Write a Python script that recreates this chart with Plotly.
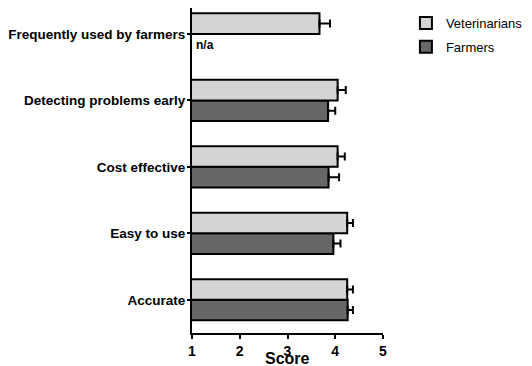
import plotly.graph_objects as go

categories = ["Accurate", "Easy to use", "Cost effective", "Detecting problems early", "Frequently used by farmers"]
vets_mean = [4.25, 4.25, 4.05, 4.05, 3.67]
vets_err = [0.12, 0.12, 0.15, 0.17, 0.22]
farmers_mean = [4.26, 3.96, 3.86, 3.85, None]
farmers_err = [0.11, 0.15, 0.22, 0.15, None]
x_ticks = [1, 2, 3, 4, 5]

FONT = "Liberation Sans, Arial, sans-serif"

fig = go.Figure()
fig.add_trace(go.Bar(
    y=categories, x=farmers_mean, orientation="h", name="Farmers", legendgroup="f",
    legendrank=2,
    marker=dict(color="#676767", line=dict(color="black", width=2)),
    error_x=dict(type="data", array=farmers_err, arrayminus=[0]*5, symmetric=False,
                 color="black", thickness=2, width=4),
))
fig.add_trace(go.Bar(
    y=categories, x=vets_mean, orientation="h", name="Veterinarians", legendgroup="v",
    legendrank=1,
    marker=dict(color="#d4d4d4", line=dict(color="black", width=2)),
    error_x=dict(type="data", array=vets_err, arrayminus=[0]*5, symmetric=False,
                 color="black", thickness=2, width=4),
))

fig.add_annotation(x=1.05, y="Frequently used by farmers", xref="x", yref="y",
                   text="<b>n/a</b>", showarrow=False, xanchor="left", yanchor="middle",
                   yshift=-11, font=dict(family=FONT, size=12, color="black"))

fig.add_annotation(x=3, y=0, xref="x", yref="paper", text="<b>Score</b>", showarrow=False,
                   xanchor="center", yanchor="middle", yshift=-25,
                   font=dict(family=FONT, size=16, color="black"))

fig.update_layout(
    width=524, height=358,
    margin=dict(l=184, r=149, t=0, b=33),
    paper_bgcolor="white", plot_bgcolor="white",
    barmode="group", bargap=0.38, bargroupgap=0,
    font=dict(family=FONT, size=13, color="black"),
    legend=dict(x=1.12, y=1.0, xanchor="left", yanchor="top", traceorder="grouped",
                tracegroupgap=4,
                font=dict(family=FONT, size=13, color="black"), bgcolor="rgba(0,0,0,0)"),
    xaxis=dict(range=[1, 5], tickvals=x_ticks, ticktext=[f"<b>{v}</b>" for v in x_ticks],
               showline=True, linecolor="black", linewidth=2, ticks="outside", ticklen=4,
               tickwidth=2, tickcolor="black", showgrid=False, zeroline=False,
               automargin=False,
               tickfont=dict(family=FONT, size=14, color="black")),
    yaxis=dict(categoryorder="array", categoryarray=categories, range=[-0.5, 4.39],
               tickvals=categories, ticktext=[f"<b>{c}</b>" for c in categories],
               showline=True, linecolor="black", linewidth=2, ticks="outside", ticklen=3,
               tickwidth=2, tickcolor="black", showgrid=False, zeroline=False,
               automargin=False, ticklabelstandoff=-1,
               tickfont=dict(family=FONT, size=13.5, color="black")),
)

fig.write_html("out.html")
